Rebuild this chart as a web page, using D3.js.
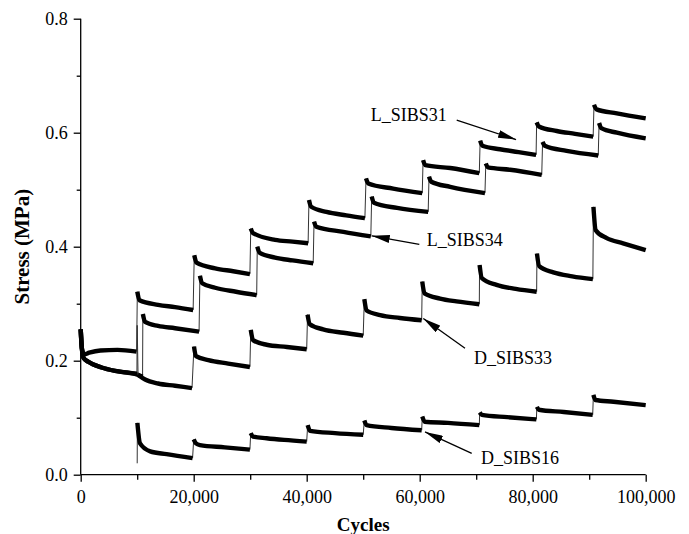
<!DOCTYPE html>
<html>
<head>
<meta charset="utf-8">
<script src="https://cdn.jsdelivr.net/npm/d3@7"></script>
<style>
  body { margin: 0; background: #fff; }
  svg { display: block; }
  svg text { font-family: "Liberation Serif", "Times New Roman", Times, serif !important; }
</style>
</head>
<body>
<svg id="chart" width="689" height="534"></svg>
<script>
// each series is a list of steps, each step a list of [cycles, stress MPa]
const L_SIBS31 = [
  [[0, 0.255], [200, 0.222], [600, 0.211], [1500, 0.214], [3500, 0.218], [6500, 0.219], [9900, 0.216]],
  [[10020, 0.321], [10400, 0.306], [13700, 0.298], [16700, 0.294], [19900, 0.289]],
  [[20100, 0.385], [20500, 0.372], [23800, 0.362], [27000, 0.357], [29950, 0.352]],
  [[30100, 0.432], [30500, 0.424], [34400, 0.412], [37500, 0.409], [40250, 0.406]],
  [[40400, 0.482], [40800, 0.470], [43500, 0.461], [47000, 0.455], [50300, 0.450]],
  [[50500, 0.520], [50900, 0.511], [55300, 0.502], [60450, 0.494]],
  [[60600, 0.552], [61000, 0.543], [65400, 0.538], [70550, 0.529]],
  [[70700, 0.586], [71100, 0.577], [74200, 0.571], [77500, 0.566], [80600, 0.561]],
  [[80700, 0.618], [81100, 0.611], [84250, 0.603], [87500, 0.598], [90700, 0.593]],
  [[90850, 0.649], [91300, 0.641], [94900, 0.634], [100000, 0.625]]
];
const L_SIBS34 = [
  [[0, 0.255], [200, 0.222], [500, 0.205], [1350, 0.198], [3700, 0.188], [6100, 0.182], [9600, 0.177], [10950, 0.172]],
  [[11000, 0.282], [11400, 0.268], [13700, 0.261], [16700, 0.257], [20950, 0.251]],
  [[21100, 0.349], [21500, 0.336], [23800, 0.328], [27500, 0.321], [31150, 0.315]],
  [[31250, 0.400], [31700, 0.389], [34400, 0.381], [37500, 0.376], [41150, 0.371]],
  [[41300, 0.444], [41700, 0.435], [46500, 0.426], [51350, 0.418]],
  [[51500, 0.488], [51900, 0.477], [56000, 0.468], [61500, 0.461]],
  [[61650, 0.523], [62050, 0.514], [65400, 0.505], [71550, 0.494]],
  [[71700, 0.546], [72100, 0.539], [76000, 0.535], [81600, 0.526]],
  [[81750, 0.584], [82150, 0.577], [86000, 0.568], [91600, 0.560]],
  [[91750, 0.617], [92150, 0.608], [94900, 0.600], [100000, 0.590]]
];
const D_SIBS33 = [
  [[0, 0.255], [200, 0.222], [500, 0.205], [1350, 0.198], [3700, 0.188], [6100, 0.182], [9950, 0.177]],
  [[10000, 0.262]],
  [[10150, 0.175], [11400, 0.167], [13700, 0.160], [16700, 0.156], [19700, 0.152]],
  [[20050, 0.225], [20400, 0.208], [22600, 0.201], [26100, 0.195], [29950, 0.189]],
  [[30100, 0.254], [30500, 0.236], [32900, 0.228], [36500, 0.224], [40000, 0.220]],
  [[40150, 0.281], [40550, 0.264], [42900, 0.255], [46500, 0.249], [50000, 0.244]],
  [[50200, 0.308], [50600, 0.288], [53000, 0.280], [56500, 0.275], [60350, 0.271]],
  [[60450, 0.339], [60850, 0.318], [63600, 0.309], [66500, 0.304], [70550, 0.299]],
  [[70600, 0.368], [71000, 0.345], [73600, 0.333], [77000, 0.326], [80700, 0.321]],
  [[80750, 0.388], [81150, 0.366], [83650, 0.355], [87000, 0.348], [90650, 0.343]],
  [[90750, 0.470], [91150, 0.429], [93100, 0.415], [96000, 0.406], [100000, 0.394]]
];
const D_SIBS16 = [
  [[10000, 0.020]],
  [[10030, 0.091], [10500, 0.055], [12300, 0.041], [15200, 0.036], [19800, 0.029]],
  [[20000, 0.062], [20400, 0.055], [21100, 0.052], [25500, 0.048], [29950, 0.044]],
  [[30090, 0.073], [30500, 0.067], [32900, 0.064], [36000, 0.061], [40000, 0.058]],
  [[40170, 0.087], [40600, 0.077], [45000, 0.073], [50000, 0.070]],
  [[50200, 0.095], [50600, 0.087], [55000, 0.082], [60350, 0.078]],
  [[60460, 0.102], [60900, 0.093], [65000, 0.091], [70550, 0.087]],
  [[70620, 0.109], [71000, 0.105], [75500, 0.101], [80650, 0.097]],
  [[80740, 0.119], [81100, 0.114], [85500, 0.110], [90620, 0.105]],
  [[90740, 0.140], [91100, 0.131], [94300, 0.128], [100000, 0.122]]
];

const seriesNames = ['L_SIBS31', 'L_SIBS34', 'D_SIBS33', 'D_SIBS16'];
const seriesData = [L_SIBS31, L_SIBS34, D_SIBS33, D_SIBS16];

// label anchor, arrow tail and arrow tip, in data units
const labelAt = [[51330, 0.620], [61240, 0.402], [69620, 0.194], [70860, 0.018]];
const arrowFrom = [[66550, 0.622], [59930, 0.404], [68020, 0.222], [69210, 0.0375]];
const arrowTo = [[77050, 0.588], [51510, 0.419], [60640, 0.274], [60940, 0.075]];

const xTicks = [0, 20000, 40000, 60000, 80000, 100000];
const xMinor = [10000, 30000, 50000, 70000, 90000];
const yTicks = [0, 0.2, 0.4, 0.6, 0.8];
const yMinor = [0.1, 0.3, 0.5, 0.7];

const svg = d3.select('#chart');
const x = d3.scaleLinear().domain([0, 100000]).range([80.7, 645.7]);
const y = d3.scaleLinear().domain([0, 0.8]).range([474.7, 18.7]);

const defs = svg.append('defs');
defs.append('marker')
  .attr('id', 'head')
  .attr('viewBox', '0 0 18 8')
  .attr('refX', 18)
  .attr('refY', 4)
  .attr('markerWidth', 18)
  .attr('markerHeight', 8)
  .attr('markerUnits', 'userSpaceOnUse')
  .attr('orient', 'auto')
  .append('path')
  .attr('d', 'M0,0 L18,4 L0,8 Z')
  .attr('fill', '#000');

const line = d3.line()
  .x(d => x(d[0]))
  .y(d => y(d[1]))
  .curve(d3.curveMonotoneX);

const plot = svg.append('g');
seriesData.forEach((steps, si) => {
  const g = plot.append('g').attr('class', 'series ' + seriesNames[si]);
  // thin vertical jumps between load steps
  for (let i = 1; i < steps.length; i++) {
    const a = steps[i - 1][steps[i - 1].length - 1];
    const b = steps[i][0];
    g.append('line')
      .attr('x1', x(a[0])).attr('y1', y(a[1]))
      .attr('x2', x(b[0])).attr('y2', y(b[1]))
      .attr('stroke', '#333')
      .attr('stroke-width', 1);
  }
  g.selectAll('path.step')
    .data(steps.filter(s => s.length > 1))
    .enter()
    .append('path')
    .attr('class', 'step')
    .attr('d', line)
    .attr('fill', 'none')
    .attr('stroke', '#000')
    .attr('stroke-width', 4.4)
    .attr('stroke-linejoin', 'round');
});

// axes
const xAxis = svg.append('g')
  .attr('transform', `translate(0,${y(0)})`)
  .call(d3.axisBottom(x).tickValues(xTicks).tickFormat(d3.format(',')).tickSize(7).tickPadding(9));
svg.append('g')
  .attr('transform', `translate(0,${y(0)})`)
  .call(d3.axisBottom(x).tickValues(xMinor).tickFormat('').tickSize(5))
  .call(g => g.select('.domain').remove());
const yAxis = svg.append('g')
  .attr('transform', `translate(${x(0)},0)`)
  .call(d3.axisLeft(y).tickValues(yTicks).tickFormat(d3.format('.1f')).tickSize(7).tickPadding(6));
svg.append('g')
  .attr('transform', `translate(${x(0)},0)`)
  .call(d3.axisLeft(y).tickValues(yMinor).tickFormat('').tickSize(4))
  .call(g => g.select('.domain').remove());

svg.selectAll('.domain, .tick line')
  .attr('stroke', '#000')
  .attr('stroke-width', 1.3);
xAxis.select('.domain').attr('d', `M${x(0)},0H${x(100000)}`);
yAxis.select('.domain').attr('d', `M0,${y(0)}V${y(0.8)}`);
svg.selectAll('.tick text')
  .attr('font-size', 18)
  .attr('fill', '#000');

svg.append('text')
  .attr('x', (x(0) + x(100000)) / 2)
  .attr('y', 531)
  .attr('text-anchor', 'middle')
  .attr('font-weight', 'bold')
  .attr('font-size', 19)
  .text('Cycles');
svg.append('text')
  .attr('transform', `translate(29,${(y(0) + y(0.8)) / 2}) rotate(-90)`)
  .attr('text-anchor', 'middle')
  .attr('font-weight', 'bold')
  .attr('font-size', 21)
  .text('Stress (MPa)');

// annotations
const notes = svg.append('g');
seriesNames.forEach((name, i) => {
  notes.append('line')
    .attr('x1', x(arrowFrom[i][0])).attr('y1', y(arrowFrom[i][1]))
    .attr('x2', x(arrowTo[i][0])).attr('y2', y(arrowTo[i][1]))
    .attr('stroke', '#000')
    .attr('stroke-width', 1.3)
    .attr('marker-end', 'url(#head)');
  notes.append('text')
    .attr('x', x(labelAt[i][0]))
    .attr('y', y(labelAt[i][1]))
    .attr('font-size', 18)
    .text(name);
});
</script>
</body>
</html>
